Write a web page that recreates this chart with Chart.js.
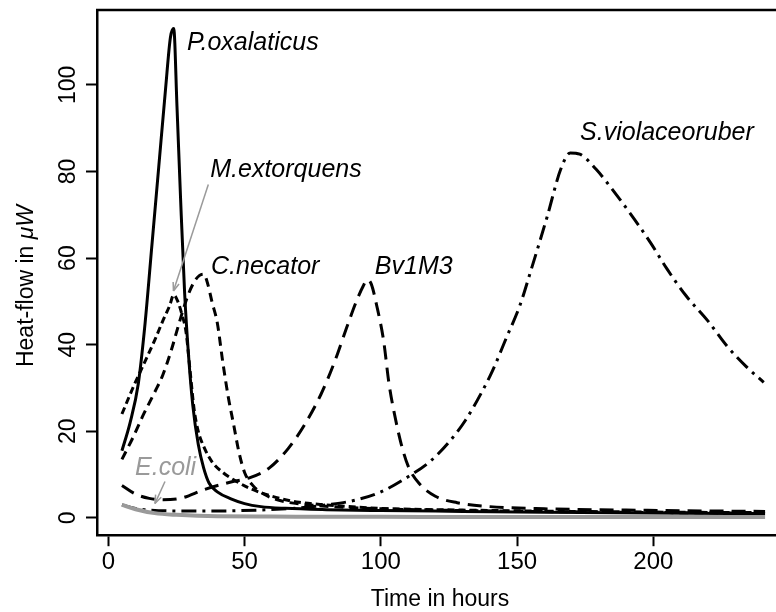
<!DOCTYPE html>
<html>
<head>
<meta charset="utf-8">
<script src="https://cdn.jsdelivr.net/npm/chart.js@4/dist/chart.umd.min.js"></script>
<style>
html, body { margin: 0; padding: 0; background: #fff; }
</style>
</head>
<body>
<canvas id="chart" width="776" height="612"></canvas>
<script>
// heat-flow curves, time in hours vs microwatt
var poxX = [5, 8, 11, 13.5, 16, 18.5, 21, 22.8, 24, 25.2, 26.5, 28, 29.5, 31, 33, 35, 37, 40, 45, 50, 56, 65, 80, 100, 130, 160, 200, 241];
var poxY = [15.5, 22, 31, 45, 63, 81, 99, 111, 113, 95, 74, 52, 37, 26, 17, 11.5, 8, 6, 4.4, 3.3, 2.6, 2.2, 1.9, 1.7, 1.5, 1.3, 1.1, 1.0];

var mexX = [5, 9, 13, 17, 20, 22.5, 24, 25.5, 27, 28.5, 30, 31.5, 33, 35, 38, 42, 46, 52, 60, 70, 80, 100, 130, 170, 210, 241];
var mexY = [24, 30, 35.5, 41, 45.5, 49, 51.5, 50, 47, 43, 34, 25, 20, 16.5, 13, 10.5, 8.8, 6.8, 5, 3.6, 3, 2.2, 1.8, 1.5, 1.3, 1.2];

var cneX = [5, 9, 13, 17, 20, 23, 26, 29, 31.5, 33.5, 35, 36.5, 38, 40, 42, 44, 46, 48, 50, 53, 57, 63, 72, 85, 100, 130, 170, 210, 241];
var cneY = [13.5, 18.5, 24, 29, 33, 38.5, 45, 51, 54.5, 56, 56.3, 54, 50, 45, 36, 28, 21.5, 15, 10.5, 7.5, 5.5, 4, 3.1, 2.5, 2.1, 1.7, 1.4, 1.2, 1.1];

var bvX = [5, 10, 15, 20, 27, 35, 45, 52, 59, 66, 72, 78, 83, 87.5, 91, 93.5, 95, 96.5, 98.5, 101, 103, 105, 107.5, 110, 114, 120, 128, 140, 160, 190, 220, 241];
var bvY = [7.5, 5.5, 4.5, 4.2, 4.6, 6.5, 8.3, 9.3, 11.5, 16, 21.5, 28.5, 36, 44, 50, 53.5, 55, 54, 49, 41, 31, 24, 17, 12, 8, 5, 3.5, 2.6, 2.1, 1.8, 1.6, 1.5];

var sviX = [5, 10, 15, 25, 40, 55, 70, 80, 90, 100, 110, 118, 125, 131, 137, 141, 146, 151, 155, 161, 166, 169.5, 173, 179, 185, 193, 199, 205, 212, 220, 227, 234, 240.5];
var sviY = [3, 2.2, 1.8, 1.6, 1.6, 1.8, 2.3, 3, 4, 6, 9.5, 13, 17.5, 22.5, 29, 34, 41.5, 49, 57, 69.5, 80.5, 84.3, 84, 80.5, 75.8, 69, 63.5, 57.5, 51.3, 45.5, 39.7, 35, 31.3];

var ecoX = [5, 10, 17, 25, 40, 60, 80, 100, 130, 160, 200, 241];
var ecoY = [3, 2, 1.1, 0.7, 0.35, 0.3, 0.25, 0.25, 0.2, 0.2, 0.2, 0.2];

var xTicks = [0, 50, 100, 150, 200];
var yTicks = [0, 20, 40, 60, 80, 100];

// label anchors in data units (left, middle)
var labels = [
    { text: 'P.oxalaticus', x: 28.9, y: 109.6, color: '#000' },
    { text: 'M.extorquens', x: 37.4, y: 80.4, color: '#000' },
    { text: 'C.necator', x: 37.7, y: 57.9, color: '#000' },
    { text: 'Bv1M3', x: 97.8, y: 57.9, color: '#000' },
    { text: 'S.violaceoruber', x: 173.1, y: 88.9, color: '#000' },
    { text: 'E.coli', x: 9.8, y: 11.4, color: '#9a9a9a' }
];
var arrows = [
    { x1: 36.7, y1: 77, x2: 23.9, y2: 52.4 },
    { x1: 20.8, y1: 8.4, x2: 17.1, y2: 3.3 }
];

function pts(xs, ys) {
    var out = [];
    for (var i = 0; i < xs.length; i++) {
        out.push({ x: xs[i], y: ys[i] });
    }
    return out;
}

function line(label, xs, ys, color, width, dash) {
    return {
        label: label,
        data: pts(xs, ys),
        borderColor: color,
        borderWidth: width,
        borderDash: dash,
        pointRadius: 0,
        fill: false,
        cubicInterpolationMode: 'monotone'
    };
}

var FONT = '"Liberation Sans", Arial, sans-serif';

var extras = {
    id: 'extras',
    afterDraw: function (chart) {
        var ctx = chart.ctx;
        var a = chart.chartArea;
        var xs = chart.scales.x, ys = chart.scales.y;
        ctx.save();

        // top frame line
        ctx.strokeStyle = '#000';
        ctx.lineWidth = 2.5;
        ctx.beginPath();
        ctx.moveTo(a.left - 1, a.top);
        ctx.lineTo(a.right, a.top);
        ctx.stroke();

        // y tick labels, rotated
        ctx.fillStyle = '#000';
        ctx.font = '23px ' + FONT;
        ctx.textAlign = 'center';
        ctx.textBaseline = 'middle';
        yTicks.forEach(function (v) {
            ctx.save();
            ctx.translate(69, ys.getPixelForValue(v));
            ctx.rotate(-Math.PI / 2);
            ctx.fillText(String(v), 0, 0);
            ctx.restore();
        });

        // y title with italic unit
        ctx.save();
        ctx.translate(27, 286);
        ctx.rotate(-Math.PI / 2);
        var t1 = 'Heat-flow in ', t2 = '\u03bcW';
        ctx.font = '23px ' + FONT;
        var w1 = ctx.measureText(t1).width;
        ctx.font = 'italic 23px ' + FONT;
        var w2 = ctx.measureText(t2).width;
        var sx = -(w1 + w2) / 2;
        ctx.textAlign = 'left';
        ctx.font = '23px ' + FONT;
        ctx.fillText(t1, sx, 0);
        ctx.font = 'italic 23px ' + FONT;
        ctx.fillText(t2, sx + w1, 0);
        ctx.restore();

        // x title
        ctx.font = '23px ' + FONT;
        ctx.textAlign = 'center';
        ctx.fillText('Time in hours', 440, 600);

        // arrows
        ctx.strokeStyle = '#9a9a9a';
        ctx.fillStyle = '#9a9a9a';
        ctx.lineWidth = 1.5;
        arrows.forEach(function (ar) {
            var x1 = xs.getPixelForValue(ar.x1), y1 = ys.getPixelForValue(ar.y1);
            var x2 = xs.getPixelForValue(ar.x2), y2 = ys.getPixelForValue(ar.y2);
            var ang = Math.atan2(y2 - y1, x2 - x1);
            ctx.beginPath();
            ctx.moveTo(x1, y1);
            ctx.lineTo(x2, y2);
            ctx.stroke();
            ctx.beginPath();
            ctx.moveTo(x2, y2);
            ctx.lineTo(x2 - 9 * Math.cos(ang - 0.35), y2 - 9 * Math.sin(ang - 0.35));
            ctx.moveTo(x2, y2);
            ctx.lineTo(x2 - 9 * Math.cos(ang + 0.35), y2 - 9 * Math.sin(ang + 0.35));
            ctx.stroke();
        });

        // curve labels
        ctx.font = 'italic 25px ' + FONT;
        ctx.textAlign = 'left';
        ctx.textBaseline = 'middle';
        labels.forEach(function (l) {
            ctx.fillStyle = l.color;
            ctx.fillText(l.text, xs.getPixelForValue(l.x), ys.getPixelForValue(l.y));
        });
        ctx.restore();
    }
};

new Chart(document.getElementById('chart'), {
    type: 'line',
    data: {
        datasets: [
            line('E.coli', ecoX, ecoY, '#9a9a9a', 4, []),
            line('S.violaceoruber', sviX, sviY, '#000', 3, [15, 6, 3, 6]),
            line('Bv1M3', bvX, bvY, '#000', 3, [14, 8]),
            line('C.necator', cneX, cneY, '#000', 3, [9, 6]),
            line('M.extorquens', mexX, mexY, '#000', 3, [7, 4]),
            line('P.oxalaticus', poxX, poxY, '#000', 3, [])
        ]
    },
    options: {
        responsive: false,
        animation: false,
        layout: { padding: { left: 86, top: 10, right: 0, bottom: 33 } },
        plugins: {
            legend: { display: false },
            tooltip: { enabled: false }
        },
        scales: {
            x: {
                type: 'linear',
                min: -4.15,
                max: 245,
                afterBuildTicks: function (s) { s.ticks = xTicks.map(function (v) { return { value: v }; }); },
                ticks: {
                    color: '#000',
                    padding: 2,
                    maxRotation: 0,
                    font: { family: FONT, size: 24 }
                },
                grid: { drawOnChartArea: false, drawTicks: true, tickLength: 11, tickWidth: 2, tickColor: '#000' },
                border: { display: true, color: '#000', width: 2.5 }
            },
            y: {
                type: 'linear',
                min: -4,
                max: 117.3,
                afterBuildTicks: function (s) { s.ticks = yTicks.map(function (v) { return { value: v }; }); },
                ticks: { display: false },
                grid: { drawOnChartArea: false, drawTicks: true, tickLength: 11, tickWidth: 2, tickColor: '#000' },
                border: { display: true, color: '#000', width: 2.5 }
            }
        }
    },
    plugins: [extras]
});
</script>
</body>
</html>
